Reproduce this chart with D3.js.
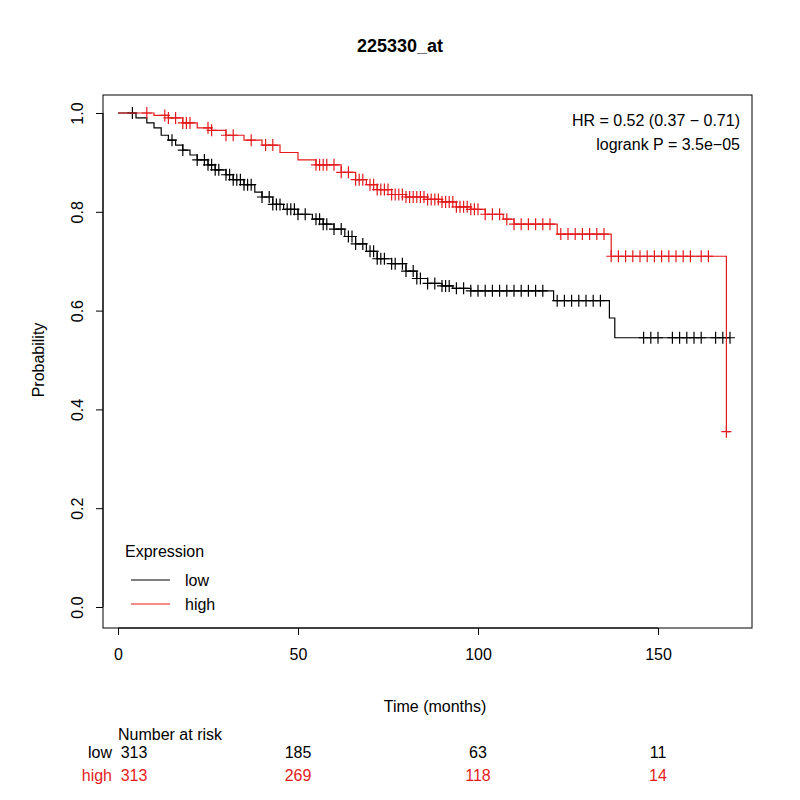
<!DOCTYPE html>
<html><head><meta charset="utf-8">
<script src="https://cdn.jsdelivr.net/npm/d3@7"></script>
<style>body{margin:0;background:#fff}text{font-family:"Liberation Sans",Arial,sans-serif}</style>
</head><body><svg id="chart" width="800" height="800"></svg>
<script>
// step points [time, survival]
const lowSteps = [[0,1],[5,0.99],[8,0.98],[10,0.97],[12,0.955],[14,0.945],[16,0.935],[18,0.925],[20,0.915],[22,0.905],[25,0.895],[27,0.885],[30,0.875],[32,0.865],[35,0.855],[38,0.84],[40,0.83],[43,0.815],[46,0.805],[50,0.795],[54,0.785],[57,0.775],[60,0.765],[63,0.75],[66,0.735],[69,0.72],[72,0.705],[76,0.695],[80,0.68],[83,0.665],[86,0.655],[90,0.65],[93,0.645],[98,0.64],[121,0.62],[136.5,0.585],[138,0.545]];
const highSteps = [[0,1],[10,0.995],[14,0.99],[18,0.98],[22,0.97],[26,0.965],[30,0.955],[35,0.945],[40,0.935],[45,0.92],[50,0.905],[55,0.895],[62,0.88],[66,0.865],[69,0.855],[72,0.845],[76,0.835],[80,0.83],[86,0.825],[90,0.82],[94,0.81],[98,0.805],[102,0.795],[107,0.785],[110,0.775],[122,0.755],[137,0.71],[169,0.355]];
const lowCensor = [4,15,18,22,24,25,26,27,28,30,31,32,33,34,35,36,37,40,42,43,44,45,47,48,49,50,52,55,56,57,58,60,62,64,65,66,68,70,71,72,73,74,76,77,79,80,82,83,84,86,88,90,91,92,94,96,98,100,102,104,106,108,110,112,114,116,118,122,124,126,128,130,132,134,146,148,150,154,156,158,160,162,166,168,170];
const highCensor = [8,13,14,16,18,19,20,25,26,30,32,37,41,43,55,56,57,58,60,62,64,66,67,68,70,71,72,73,74,75,76,77,78,79,80,81,82,83,84,85,86,87,88,89,90,91,92,93,94,95,96,97,98,99,100,102,104,106,108,110,112,114,116,118,120,123,125,127,129,131,133,135,137,139,141,143,145,147,149,151,153,155,157,159,162,164,169];
const endTime = 170;
const xTicks = [0,50,100,150];
const yTicks = [0,0.2,0.4,0.6,0.8,1.0];
const riskTimes = [0,50,100,150];
const lowRisk = [313,185,63,11];
const highRisk = [313,269,118,14];

const svg = d3.select("#chart");
const x = d3.scaleLinear().domain([0,50]).range([118,298]);
const y = d3.scaleLinear().domain([0,1]).range([607,113]);

svg.append("rect").attr("x",103).attr("y",95).attr("width",649).attr("height",533)
  .attr("fill","none").attr("stroke","#000");

svg.append("g").attr("transform","translate(0,628)")
  .call(d3.axisBottom(x).tickValues(xTicks).tickSize(7).tickPadding(14))
  .call(g=>g.select(".domain").attr("d","M118,0H658"))
  .selectAll("text").attr("font-size",16);
const yAxis = svg.append("g").attr("transform","translate(103,0)")
  .call(d3.axisLeft(y).tickValues(yTicks).tickSize(7))
  .call(g=>g.select(".domain").attr("d","M0,607V113"));
yAxis.selectAll("text").remove();
yAxis.selectAll(".tick").append("text")
  .attr("transform","translate(-20,0) rotate(-90)").attr("text-anchor","middle")
  .attr("fill","#000").attr("font-size",16).text(d3.format(".1f"));

function survAt(steps,t){let s=1;for(const p of steps){if(p[0]<=t)s=p[1];}return s;}
function draw(steps,cens,color){
  const pts=[...steps,[endTime,steps[steps.length-1][1]]];
  svg.append("path").datum(pts).attr("fill","none").attr("stroke",color).attr("stroke-width",1.2)
    .attr("d",d3.line().x(d=>x(d[0])).y(d=>y(d[1])).curve(d3.curveStepAfter));
  svg.append("g").selectAll("path").data(cens).join("path")
    .attr("stroke",color).attr("stroke-width",1.2)
    .attr("d",t=>{const cx=x(t),cy=y(survAt(steps,t));return `M${cx-5},${cy}H${cx+5}M${cx},${cy-6}V${cy+6}`;});
}
draw(lowSteps,lowCensor,"#000");
draw(highSteps,highCensor,"#e41a1c");

svg.append("text").attr("x",400).attr("y",52).attr("text-anchor","middle").attr("font-size",18).attr("font-weight","bold").text("225330_at");
svg.append("text").attr("x",435).attr("y",712).attr("text-anchor","middle").attr("font-size",16).text("Time (months)");
svg.append("text").attr("transform","translate(44,360) rotate(-90)").attr("text-anchor","middle").attr("font-size",16).text("Probability");
svg.append("text").attr("x",740).attr("y",126).attr("text-anchor","end").attr("font-size",16).text("HR = 0.52 (0.37 − 0.71)");
svg.append("text").attr("x",740).attr("y",150).attr("text-anchor","end").attr("font-size",16).text("logrank P = 3.5e−05");

svg.append("text").attr("x",125).attr("y",557).attr("font-size",16).text("Expression");
[["low","#000",580],["high","#e41a1c",604]].forEach(([l,c,yy])=>{
  svg.append("line").attr("x1",131).attr("x2",170).attr("y1",yy).attr("y2",yy).attr("stroke",c).attr("stroke-width",1.2);
  svg.append("text").attr("x",185).attr("y",yy+6).attr("font-size",16).text(l);
});

svg.append("text").attr("x",118).attr("y",740).attr("font-size",16).text("Number at risk");
[[lowRisk,"low","#000",758],[highRisk,"high","#e41a1c",781]].forEach(([vals,l,c,yy])=>{
  svg.append("text").attr("x",112).attr("y",yy).attr("text-anchor","end").attr("font-size",16).attr("fill",c).text(l);
  vals.forEach((v,i)=>svg.append("text").attr("x",i===0?x(riskTimes[i])+16:x(riskTimes[i])).attr("y",yy)
    .attr("text-anchor","middle").attr("font-size",16).attr("fill",c).text(v));
});
</script></body></html>
